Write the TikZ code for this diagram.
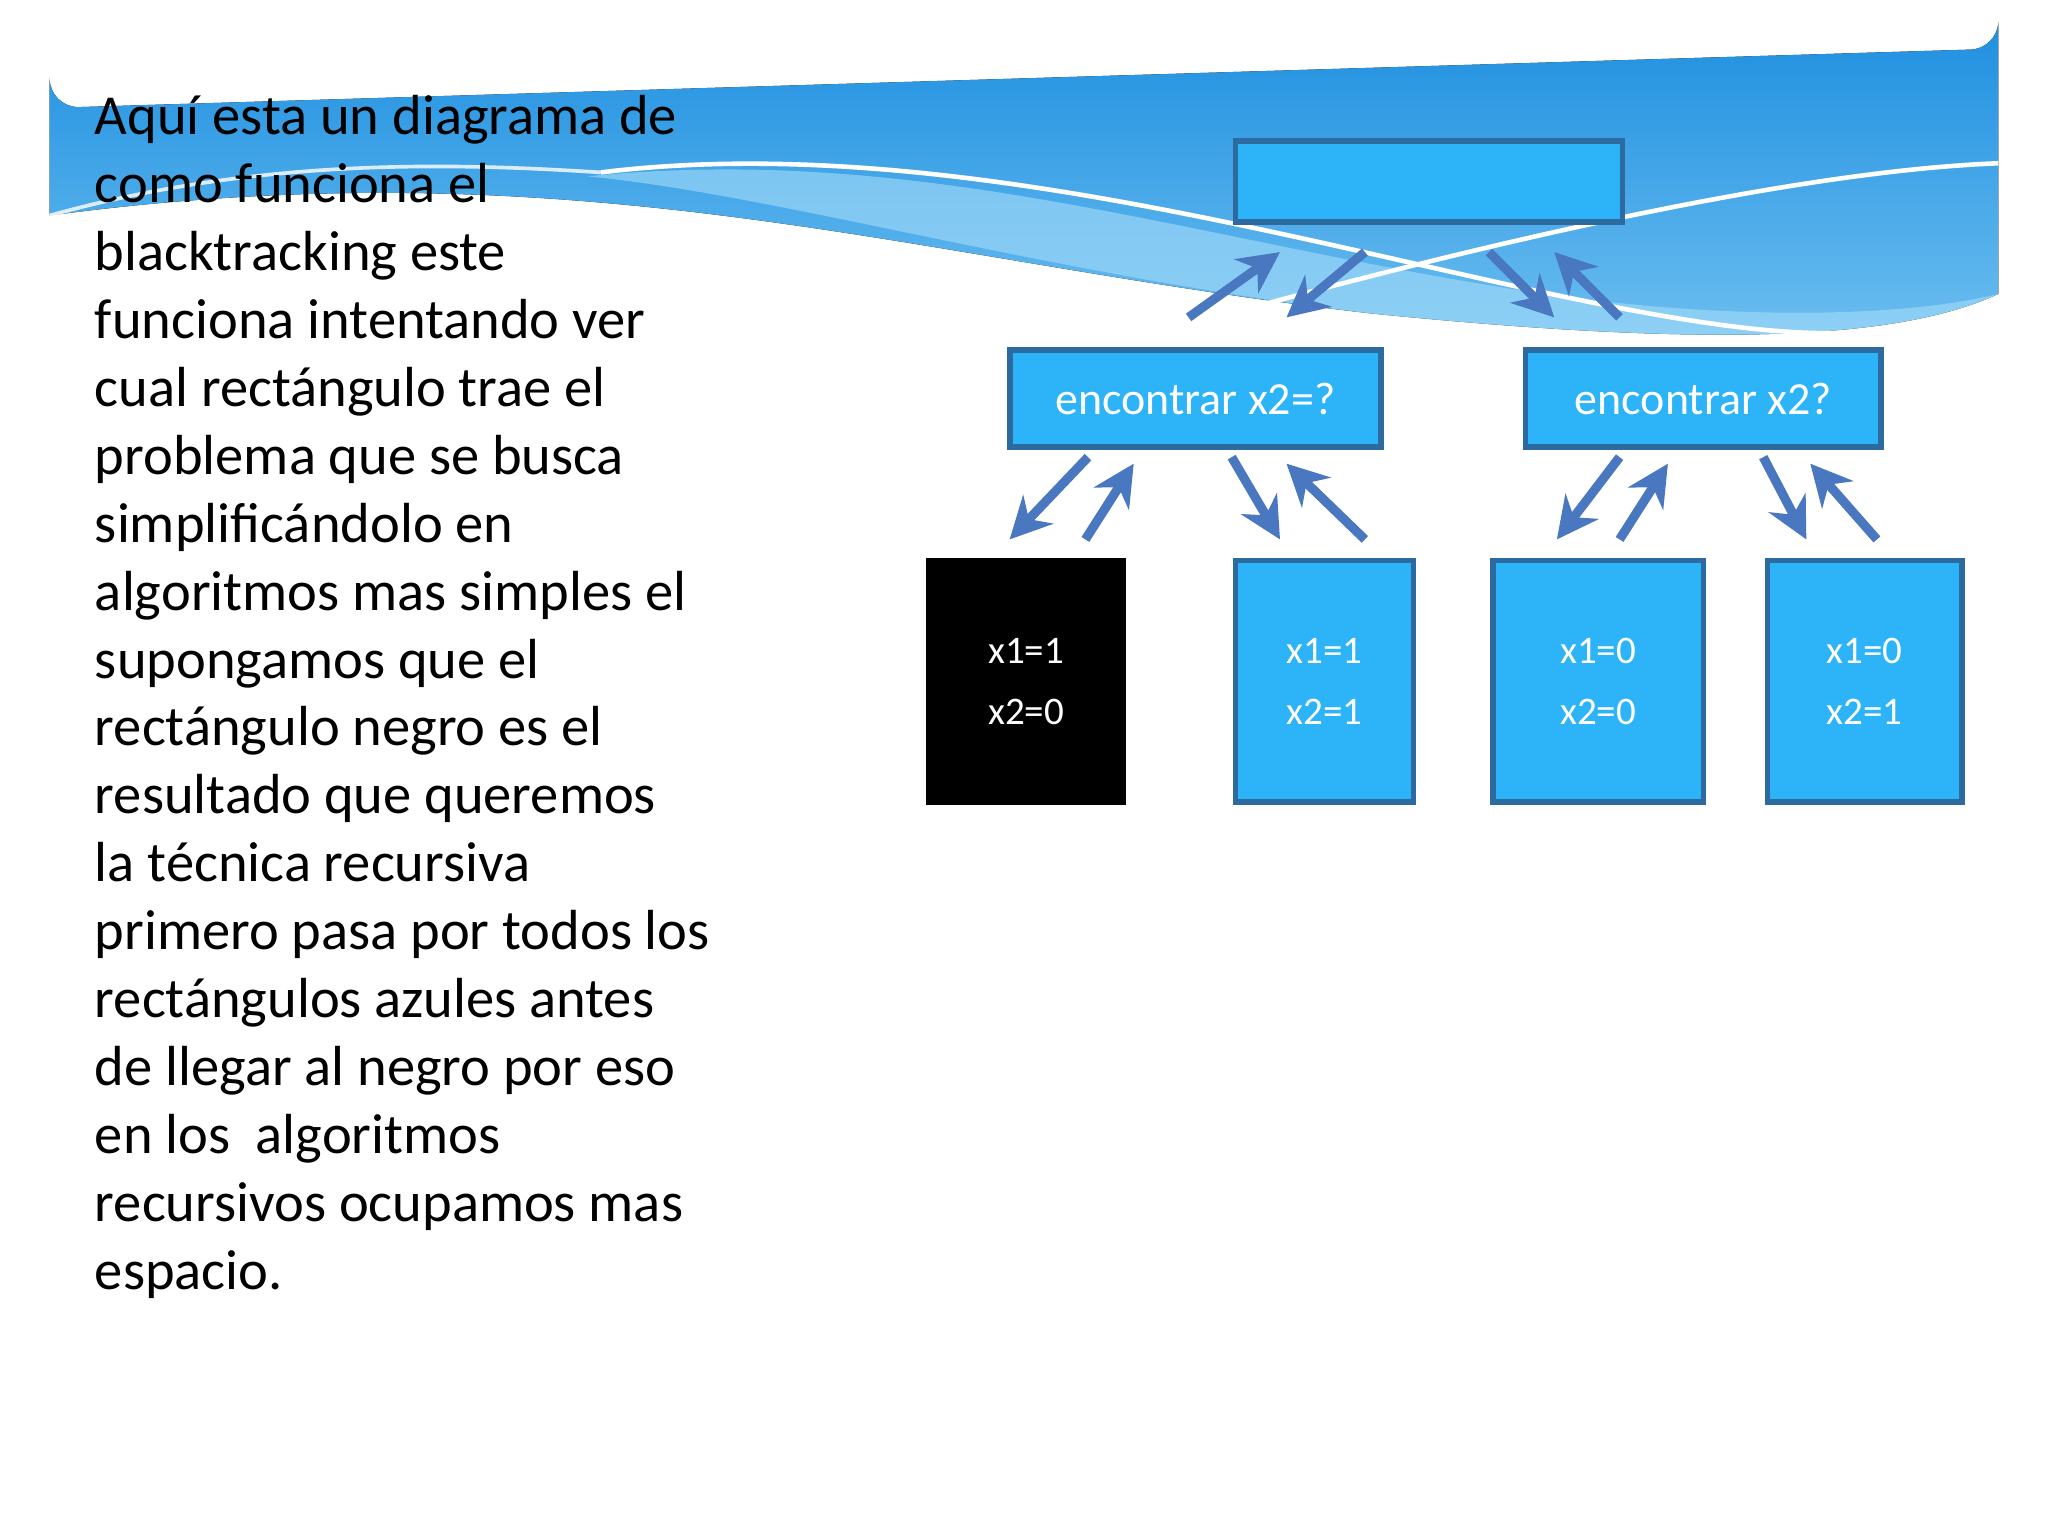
\documentclass[tikz,border=0pt]{standalone}
\usepackage{fontspec}
\setmainfont{Carlito}
\usetikzlibrary{arrows.meta}
\definecolor{bx}{HTML}{2DB3F7}
\definecolor{bd}{HTML}{2C6AA0}
\definecolor{ar}{HTML}{4A78C0}
\definecolor{ban}{HTML}{1E8FE0}
\definecolor{banl}{HTML}{8FD3F7}
\tikzset{
 bluebox/.style={draw=bd,line width=1.2pt,fill=bx,text=white,anchor=north west,inner sep=0pt},
 arr/.style={draw=ar,line width=2pt,-{Stealth[length=9pt,width=9pt]}}
}
\begin{document}
\begin{tikzpicture}[x=0.01cm,y=-0.01cm]
\useasboundingbox (0,0) rectangle (1568,1176);
\fill[white] (0,0) rectangle (1568,1176);
% banner
\fill[top color=ban,bottom color=banl!70!ban]
 (38,165) -- (38,60) arc[start angle=180,end angle=90,radius=22] -- (1508,38) arc[start angle=90,end angle=0,radius=22] -- (1530,225)
 .. controls (1450,262) and (1300,265) .. (1050,240)
 .. controls (700,200) and (450,110) .. (38,165) -- cycle;
\fill[banl!80!white,opacity=0.6]
 (450,135) .. controls (700,110) and (900,180) .. (1150,220) .. controls (1300,245) and (1450,245) .. (1530,225)
 .. controls (1450,262) and (1300,265) .. (1050,240) .. controls (800,210) and (600,150) .. (450,135) -- cycle;
\draw[white,line width=1pt] (460,132) .. controls (800,90) and (1200,260) .. (1410,255);
\draw[white,line width=1pt] (960,235) .. controls (1200,170) and (1400,130) .. (1530,125);
\draw[white,line width=0.8pt,opacity=0.8] (38,165) .. controls (200,120) and (350,125) .. (460,132);
% text
\node[anchor=north west,align=left,font=\fontsize{12.3}{14.8}\selectfont,inner sep=0pt] (txt) at (72,72) {Aquí esta un diagrama de\\como funciona el\\blacktracking este\\funciona intentando ver\\cual rectángulo trae el\\problema que se busca\\simplificándolo en\\algoritmos mas simples el\\supongamos que el\\rectángulo negro es el\\resultado que queremos\\la técnica recursiva\\primero pasa por todos los\\rectángulos azules antes\\de llegar al negro por eso\\en los\ \ algoritmos\\recursivos ocupamos mas\\espacio.};
% boxes
\node[bluebox,minimum width=2.96cm,minimum height=0.62cm] (top) at (944,106) {};
\node[bluebox,minimum width=2.84cm,minimum height=0.74cm,font=\fontsize{10}{12}\selectfont] (e1) at (771,266) {encontrar x2=?};
\node[bluebox,minimum width=2.72cm,minimum height=0.74cm,font=\fontsize{10}{12}\selectfont] (e2) at (1166,266) {encontrar x2?};
\node[bluebox,draw=black,fill=black,minimum width=1.49cm,minimum height=1.85cm,align=center,font=\fontsize{8.5}{13.3}\selectfont] (b1) at (709,427) {x1=1\\x2=0};
\node[bluebox,minimum width=1.36cm,minimum height=1.85cm,align=center,font=\fontsize{8.5}{13.3}\selectfont] (b2) at (944,427) {x1=1\\x2=1};
\node[bluebox,minimum width=1.61cm,minimum height=1.85cm,align=center,font=\fontsize{8.5}{13.3}\selectfont] (b3) at (1141,427) {x1=0\\x2=0};
\node[bluebox,minimum width=1.49cm,minimum height=1.85cm,align=center,font=\fontsize{8.5}{13.3}\selectfont] (b4) at (1351,427) {x1=0\\x2=1};
% arrows
\draw[arr] (910,243) -- (980,193);
\draw[arr] (1045,193) -- (985,243);
\draw[arr] (1140,193) -- (1190,243);
\draw[arr] (1240,243) -- (1190,193);
\draw[arr] (833,350) -- (773,413);
\draw[arr] (831,413) -- (868,355);
\draw[arr] (943,350) -- (980,413);
\draw[arr] (1045,413) -- (985,355);
\draw[arr] (1240,350) -- (1192,413);
\draw[arr] (1240,413) -- (1277,355);
\draw[arr] (1350,350) -- (1383,413);
\draw[arr] (1437,413) -- (1386,355);
\end{tikzpicture}
\end{document}
